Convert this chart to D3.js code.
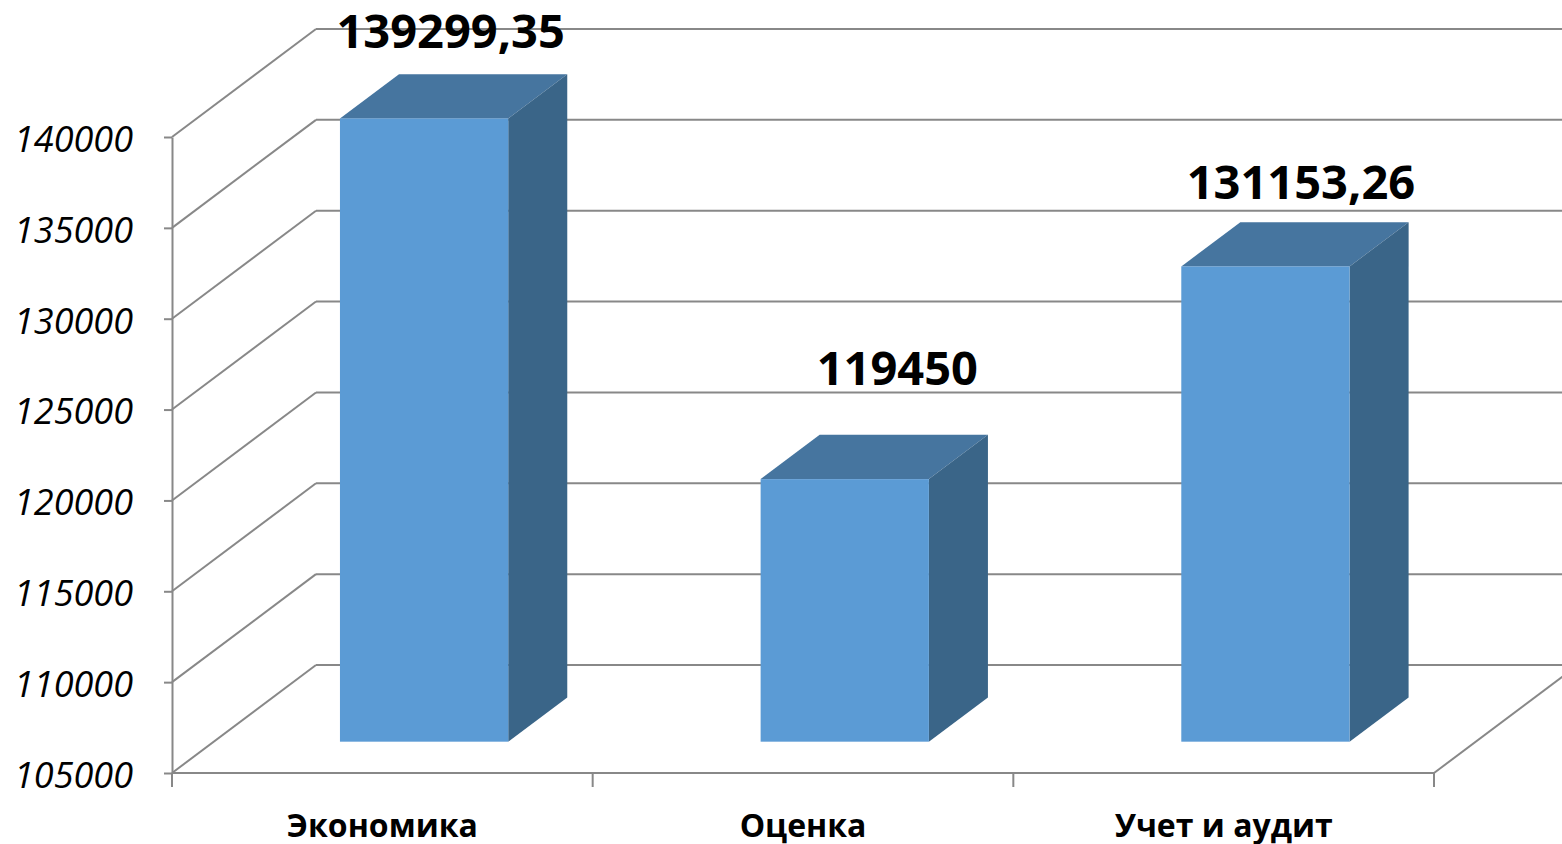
<!DOCTYPE html>
<html>
<head>
<meta charset="utf-8">
<script src="https://cdn.jsdelivr.net/npm/d3@7"></script>
<style>
  html, body { margin: 0; padding: 0; background: #fff; }
  svg { display: block; }
  text { font-family: "Open Sans", "Noto Sans", sans-serif; fill: #000; }
</style>
</head>
<body>
<svg id="chart" width="1562" height="844"></svg>
<script>
// data
var categories = ["Экономика", "Оценка", "Учет и аудит"];
var values = [139299.35, 119450, 131153.26];
var tickValues = [105000, 110000, 115000, 120000, 125000, 130000, 135000, 140000];

// layout of the pseudo-3d box
var x0 = 172, x1 = 1434;        // front floor edge
var yFloor = 773, yTop = 137;   // front plane, 105000 .. 140000
var depth = [144, -108];        // vector from front plane to back wall
var fFront = 0.29, fBack = 0.70; // bar position inside the depth
var barShare = 0.4;

var gridColor = "#888888";
var faceColor = "#5b9bd5", topColor = "#46759f", sideColor = "#3a6588";

var svg = d3.select("#chart");

var y = d3.scaleLinear().domain([105000, 140000]).range([yFloor, yTop]);
var x = d3.scaleBand().domain(categories).range([x0, x1]).padding(0);

var fmt = d3.formatLocale({decimal: ",", thousands: "", grouping: [3], currency: ["", ""]}).format(".2~f");

// shift a front-plane point into depth f (0..1)
function proj(px, py, f) {
  return [px + depth[0] * f, py + depth[1] * f];
}

var walls = svg.append("g").attr("fill", "none").attr("stroke", gridColor).attr("stroke-width", 2);

// back wall gridlines
walls.selectAll("line.back")
  .data(tickValues)
  .enter().append("line")
    .attr("class", "back")
    .attr("x1", function(d) { return proj(x0, y(d), 1)[0]; })
    .attr("y1", function(d) { return proj(x0, y(d), 1)[1]; })
    .attr("x2", function(d) { return proj(x1, y(d), 1)[0]; })
    .attr("y2", function(d) { return proj(x1, y(d), 1)[1]; });

// side wall gridlines
walls.selectAll("line.side")
  .data(tickValues)
  .enter().append("line")
    .attr("class", "side")
    .attr("x1", x0)
    .attr("y1", function(d) { return y(d); })
    .attr("x2", function(d) { return proj(x0, y(d), 1)[0]; })
    .attr("y2", function(d) { return proj(x0, y(d), 1)[1]; });

// floor front edge + right edge
walls.append("line")
  .attr("x1", x0).attr("y1", y(105000))
  .attr("x2", x1).attr("y2", y(105000));
walls.append("line")
  .attr("x1", x1).attr("y1", y(105000))
  .attr("x2", proj(x1, y(105000), 1)[0]).attr("y2", proj(x1, y(105000), 1)[1]);

// category boundary ticks
var bounds = categories.map(function(c) { return x(c); }).concat([x1]);
walls.selectAll("line.ctick")
  .data(bounds)
  .enter().append("line")
    .attr("class", "ctick")
    .attr("x1", function(d) { return d; }).attr("x2", function(d) { return d; })
    .attr("y1", y(105000)).attr("y2", y(105000) + 14);

// y axis on the front plane
var yAxis = d3.axisLeft(y).tickValues(tickValues).tickSize(8).tickSizeOuter(0).tickPadding(31)
  .tickFormat(d3.format("d"));
var ag = svg.append("g").attr("transform", "translate(" + x0 + ",0)").call(yAxis);
ag.select(".domain").attr("stroke", gridColor).attr("stroke-width", 2);
ag.selectAll(".tick line").attr("stroke", gridColor).attr("stroke-width", 2);
ag.selectAll(".tick text")
  .attr("font-family", "Open Sans")
  .attr("font-size", 36)
  .attr("font-style", "italic")
  .attr("fill", "#000")
  .attr("dy", "0.4em");

// bars
var bw = x.bandwidth() * barShare;
var bars = svg.append("g").selectAll("g.bar")
  .data(values)
  .enter().append("g").attr("class", "bar");

function pts(list) {
  return list.map(function(p) { return p.join(","); }).join(" ");
}

bars.each(function(v, i) {
  var g = d3.select(this);
  var cx = x(categories[i]) + x.bandwidth() / 2;
  var L = cx - bw / 2, R = cx + bw / 2;
  var yb = y(105000), yt = y(v);
  // top
  g.append("polygon")
    .attr("points", pts([proj(L, yt, fFront), proj(R, yt, fFront), proj(R, yt, fBack), proj(L, yt, fBack)]))
    .attr("fill", topColor);
  // right side
  g.append("polygon")
    .attr("points", pts([proj(R, yt, fFront), proj(R, yt, fBack), proj(R, yb, fBack), proj(R, yb, fFront)]))
    .attr("fill", sideColor);
  // front
  var a = proj(L, yt, fFront), b = proj(R, yb, fFront);
  g.append("rect")
    .attr("x", a[0]).attr("y", a[1])
    .attr("width", b[0] - a[0]).attr("height", b[1] - a[1])
    .attr("fill", faceColor);
});

// data labels (small per-label nudges to follow the original placement)
var labelNudge = [[-3, 0], [23, -24], [6, 3]];
svg.append("g").selectAll("text")
  .data(values)
  .enter().append("text")
    .attr("x", function(d, i) {
      var cx = x(categories[i]) + x.bandwidth() / 2;
      return cx + depth[0] * (fFront + fBack) / 2 + labelNudge[i][0];
    })
    .attr("y", function(d, i) { return proj(0, y(d), fBack)[1] - 26 + labelNudge[i][1]; })
    .attr("text-anchor", "middle")
    .attr("font-size", 47)
    .attr("font-weight", "bold")
    .text(function(d) { return fmt(d); });

// category labels
svg.append("g").selectAll("text")
  .data(categories)
  .enter().append("text")
    .attr("x", function(d) { return x(d) + x.bandwidth() / 2; })
    .attr("y", 837)
    .attr("text-anchor", "middle")
    .attr("font-size", 32)
    .attr("font-weight", "bold")
    .text(function(d) { return d; });
</script>
</body>
</html>
